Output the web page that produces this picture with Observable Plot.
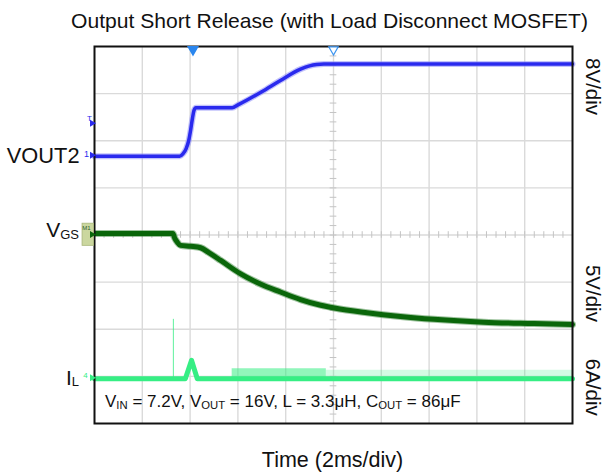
<!DOCTYPE html>
<html><head><meta charset="utf-8">
<script src="https://cdn.jsdelivr.net/npm/d3@7"></script>
<script src="https://cdn.jsdelivr.net/npm/@observablehq/plot@0.6"></script>
<style>html,body{margin:0;padding:0;background:#fff;overflow:hidden}</style>
</head><body><div id="chart"></div>
<script>
// Units: time in screen divisions (2 ms/div, 10 div), level in divisions (0 = bottom, 8 div)
const titleText = "Output Short Release (with Load Disconnect MOSFET)";
const xLabelText = "Time (2ms/div)";

// VOUT2 (blue, 8 V/div)
const voutT = [0, 1.78, 1.85, 1.92, 1.97, 2.01, 2.05, 2.08, 2.12, 2.88, 3.0, 3.5, 3.89, 4.31, 4.5, 4.65, 4.8, 5.0, 10];
const voutV = [5.67, 5.67, 5.72, 5.84, 6.0, 6.22, 6.48, 6.64, 6.70, 6.70, 6.76, 7.04, 7.28, 7.52, 7.59, 7.62, 7.63, 7.63, 7.63];

// VGS (dark green, 5 V/div)
const vgsT = [0, 1.64, 1.68, 1.73, 1.80, 2.01, 2.22, 2.40, 2.64, 3.05, 3.47, 3.89, 4.31, 4.73, 5.02, 5.70, 6.40, 7.10, 8.14, 9.18, 10];
const vgsV = [4.03, 4.03, 3.93, 3.85, 3.78, 3.76, 3.73, 3.62, 3.46, 3.18, 2.96, 2.79, 2.63, 2.51, 2.45, 2.35, 2.27, 2.21, 2.15, 2.12, 2.10];

// IL (light green, 6 A/div)
const ilT = [0, 1.90, 2.03, 2.15, 10];
const ilV = [0.95, 0.95, 1.34, 0.95, 0.95];
const ilSpike = {t: 1.65, top: 2.21};
const ilDenseNoiseT = [2.88, 4.85];
const ilSparseNoiseT = [4.85, 10];
const ilNoiseTop = [1.16, 1.13];

// channel markers & labels
const triggerT = [2.06, 5];
const rightLabels = ["8V/div", "5V/div", "6A/div"];
const rightLabelY = [7.15, 2.76, 0.77];
const ch1Ground = 5.69, ch1Trig = 6.37, vgsGround = 4.01, ilGround = 0.97;
const leftLabelY = {vout: 5.52, vgs: 3.95, il: 0.81};
const noteY = 0.35;

const font = "'Liberation Sans', Arial, Helvetica, sans-serif";
const blue = "#2a2aee", blueEdge = "#9090f8";
const dgreen = "#0a660a", dgreenEdge = "#3f8a3f";
const lgreen = "#36ee84";

const vout = voutT.map((t, i) => ({t, v: voutV[i]}));
const vgs = vgsT.map((t, i) => ({t, v: vgsV[i]}));
const il = ilT.map((t, i) => ({t, v: ilV[i]}));
const dense = ilDenseNoiseT.map(t => ({t, lo: ilV[0], hi: ilNoiseTop[0]}));
const sparse = ilSparseNoiseT.map(t => ({t, lo: ilV[0], hi: ilNoiseTop[1]}));
const minorX = d3.range(0.2, 10, 0.2);
const minorY = d3.range(0.2, 8, 0.2);

const chart = Plot.plot({
  width: 604, height: 473,
  marginLeft: 94, marginRight: 32, marginTop: 46, marginBottom: 50,
  x: {domain: [0, 10], axis: null},
  y: {domain: [0, 8], axis: null},
  style: {fontFamily: font, background: "#fff", overflow: "visible", color: "#111"},
  marks: [
    Plot.ruleX(d3.range(1, 10), {stroke: "#dadada", strokeWidth: 1.4}),
    Plot.ruleY(d3.range(1, 8), {stroke: "#dadada", strokeWidth: 1.4}),
    Plot.ruleX(minorX, {x: d => d, y1: 4 - 0.07, y2: 4 + 0.07, stroke: "#c4c4c4"}),
    Plot.ruleY(minorY, {y: d => d, x1: 5 - 0.07, x2: 5 + 0.07, stroke: "#c4c4c4"}),
    // IL
    Plot.areaY(dense, {x: "t", y1: "lo", y2: "hi", fill: lgreen, fillOpacity: 0.55}),
    Plot.areaY(sparse, {x: "t", y1: "lo", y2: "hi", fill: lgreen, fillOpacity: 0.22}),
    Plot.ruleX([ilSpike], {x: "t", y1: ilV[0], y2: "top", stroke: lgreen, strokeWidth: 1, strokeOpacity: 0.8}),
    Plot.line(il, {x: "t", y: "v", stroke: lgreen, strokeWidth: 5}),
    // VGS
    Plot.line(vgs, {x: "t", y: "v", stroke: dgreenEdge, strokeWidth: 7, strokeOpacity: 0.5, curve: "monotone-x"}),
    Plot.line(vgs, {x: "t", y: "v", stroke: dgreen, strokeWidth: 5, curve: "monotone-x"}),
    // VOUT2
    Plot.line(vout, {x: "t", y: "v", stroke: blueEdge, strokeWidth: 6, strokeOpacity: 0.55, curve: "monotone-x"}),
    Plot.line(vout, {x: "t", y: "v", stroke: blue, strokeWidth: 3.5, curve: "monotone-x"}),
    Plot.frame({stroke: "#111", strokeWidth: 2}),
    // trigger markers on top edge
    Plot.dot([triggerT[0]], {x: d => d, y: 8, dy: 3, symbol: "triangle", rotate: 180, r: 3.5, fill: "#2a86ee", stroke: "#2a86ee"}),
    Plot.dot([triggerT[1]], {x: d => d, y: 8, dy: 3, symbol: "triangle", rotate: 180, r: 3.5, fill: "#fff", stroke: "#3d95f0", strokeWidth: 1.2}),
    // left channel markers
    Plot.dot([ch1Trig, ch1Ground], {x: 0, y: d => d, dx: -2.5, symbol: "triangle", rotate: 90, r: 2.6, fill: blue}),
    Plot.text(["T"], {x: 0, y: ch1Trig, dx: -5, dy: -5, fontSize: 8, fill: blue}),
    Plot.text(["1"], {x: 0, y: ch1Ground, dx: -8, dy: -1, fontSize: 9, fill: blue}),
    Plot.rect([vgsGround], {x1: -0.25, x2: -0.01, y1: d => d + 0.23, y2: d => d - 0.24, fill: "#cbd79f", stroke: "#a9b67a", strokeWidth: 0.8}),
    Plot.text(["M1"], {x: 0, y: vgsGround, dx: -8, dy: -6, fontSize: 6, fill: "#2f5f2f"}),
    Plot.dot([vgsGround], {x: 0, y: d => d, dx: -2.5, symbol: "triangle", rotate: 90, r: 2.6, fill: dgreen}),
    Plot.dot([ilGround], {x: 0, y: d => d, dx: -2.5, symbol: "triangle", rotate: 90, r: 2.6, fill: lgreen}),
    Plot.text(["4"], {x: 0, y: ilGround, dx: -9, dy: -2, fontSize: 8, fill: lgreen}),
    // title & axis label
    Plot.text([titleText], {frameAnchor: "top", dx: -4, dy: -19, lineAnchor: "bottom", fontSize: 21.1, fill: "#111"}),
    Plot.text([xLabelText], {frameAnchor: "bottom", dx: -1, dy: 43, lineAnchor: "bottom", fontSize: 21.5, fill: "#111"}),
    Plot.text(["VOUT2"], {x: 0, y: leftLabelY.vout, dx: -15, textAnchor: "end", lineAnchor: "bottom", fontSize: 21.8, fill: "#111"}),
    // right scale labels
    Plot.text(rightLabels, {frameAnchor: "right", y: (d, i) => rightLabelY[i], dx: 20, rotate: 90, textAnchor: "middle", fontSize: 20.5, fill: "#111"})
  ]
});
document.getElementById("chart").appendChild(chart);

// Subscripted labels placed with the plot's own scales
const xs = chart.scale("x"), ys = chart.scale("y");
const svg = d3.select(chart);
function subText(x, y, anchor, parts, size, subSize, subDy) {
  const t = svg.append("text").attr("x", x).attr("y", y).attr("text-anchor", anchor)
    .attr("font-family", font).attr("fill", "#111").attr("font-size", size);
  let lastSub = false;
  for (const [s, sub] of parts) {
    const ts = t.append("tspan").text(s);
    if (sub) ts.attr("font-size", subSize).attr("dy", lastSub ? 0 : subDy);
    else ts.attr("dy", lastSub ? -subDy : 0);
    lastSub = sub;
  }
}
subText(xs.apply(0) - 15, ys.apply(leftLabelY.vgs), "end", [["V", false], ["GS", true]], 21, 13, 2);
subText(xs.apply(0) - 15, ys.apply(leftLabelY.il), "end", [["I", false], ["L", true]], 21, 13, 1);
subText(xs.apply(0) + 11, ys.apply(noteY), "start",
  [["V", false], ["IN", true], [" = 7.2V, V", false], ["OUT", true], [" = 16V, L = 3.3μH, C", false], ["OUT", true], [" = 86μF", false]],
  17, 11.3, 2.5);
</script>
</body></html>
